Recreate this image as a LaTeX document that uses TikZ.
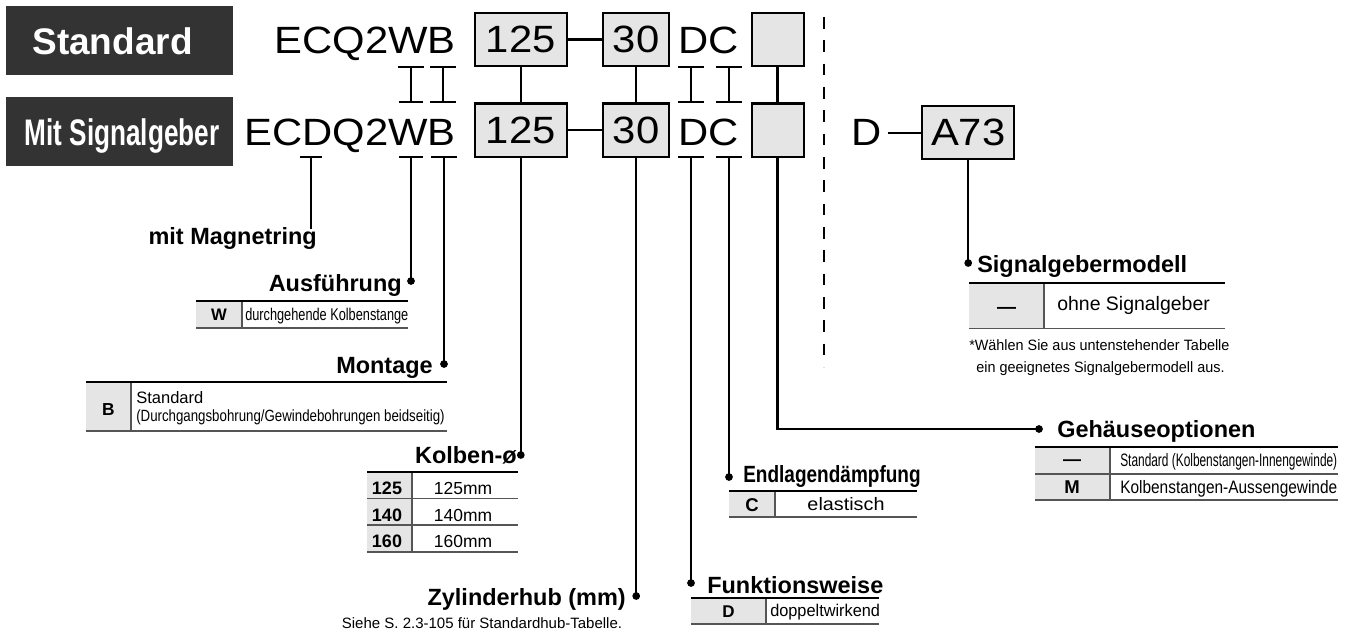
\documentclass[tikz,border=0pt]{standalone}
\usepackage{fontspec}
\setmainfont{Liberation Sans}
\usepackage{graphicx}
\usetikzlibrary{arrows.meta}
\definecolor{cellgray}{HTML}{E5E5E5}
\definecolor{labelbg}{HTML}{333333}
\definecolor{rulegray}{HTML}{555555}
\newcommand{\codew}[1]{\scalebox{1.1}[1]{#1}}
\newcommand{\sx}[2]{\scalebox{#1}[1]{#2}}
\newcommand{\fpx}[1]{\fontsize{#1}{#1}\selectfont}
\begin{document}
\begin{tikzpicture}[x=0.75pt,y=-0.75pt,
 conn/.style={line width=1.6pt},
 ibar/.style={line width=1.3pt},
 code/.style={inner sep=0pt, font=\fpx{28.5pt}},
 codebox/.style={draw, line width=1.5pt, fill=cellgray, inner sep=0pt, minimum height=39.75pt, font=\fpx{28.5pt}},
 lblbox/.style={fill=labelbg, inner sep=0pt, minimum width=170.25pt, minimum height=51.75pt},
 lbltext/.style={inner sep=0pt, text=white, font=\fpx{27.75pt}\bfseries},
 title/.style={inner sep=0pt, font=\fpx{17.6pt}\bfseries},
 dot/.style={circle, fill, inner sep=0pt, minimum size=5.8pt},
 key/.style={inner sep=0pt, anchor=base},
 val/.style={inner sep=0pt, anchor=base west},
 topr/.style={line width=1.5pt},
 thinr/.style={line width=0.8pt, rulegray},
]
\useasboundingbox (0,0) rectangle (1349,635);

% label boxes
\node[lblbox] (lblS) at (119.5,40.5) {};
\node[lbltext, anchor=base] (lblSt) at (112.5,54.3) {Standard};
\node[lblbox] (lblM) at (119.5,131.5) {};
\node[lbltext, anchor=base] (lblMt) at (122,145.7) {\sx{0.707}{Mit Signalgeber}};

% row 1
\node[code, anchor=base east] (c1) at (456,53.3) {\codew{ECQ2WB}};
\node[codebox, minimum width=69pt] (b125a) at (520.8,39.5) {\codew{125}};
\node[codebox, minimum width=49.5pt] (b30a) at (636.2,39.5) {\codew{30}};
\node[code, anchor=base west] (dc1) at (678,53.3) {\codew{DC}};
\node[codebox, minimum width=39pt] (bEa) at (777.5,39.5) {};

% row 2
\node[code, anchor=base east] (c2) at (456,145.7) {\codew{ECDQ2WB}};
\node[codebox, minimum width=69pt] (b125b) at (520.8,130) {\codew{125}};
\node[codebox, minimum width=49.5pt] (b30b) at (636.2,130) {\codew{30}};
\node[code, anchor=base west] (dc2) at (678,145.7) {\codew{DC}};
\node[codebox, minimum width=39pt] (bEb) at (777.5,130) {};
\node[code, anchor=base west] (dD) at (851,145.7) {\codew{D}};
\node[codebox, minimum width=68.6pt] (bA73) at (968.2,132.7) {\codew{A73}};

% dashed separator
\coordinate (sepT) at (824,17);
\coordinate (sepB) at (824,367);
\draw[line width=1.6pt, dash pattern=on 8.75pt off 8.75pt] (sepT) -- (sepB);

% box connectors
\draw[conn] (b125a) -- (b30a);
\draw[conn] (b125b) -- (b30b);
\draw[conn] (b125a.south) -- (b125b.north);
\draw[conn] (b30a.south) -- (b30b.north);
\draw[conn] (bEa.south) -- (bEb.north);
\draw[conn, shorten <=4.5pt] (dD.east) -- (dD.east -| bA73.west);

% I-bars between rows
\coordinate (iW1) at (411,66);  \coordinate (iW2) at (411,103);
\coordinate (iB1) at (443,66);  \coordinate (iB2) at (443,103);
\coordinate (iD1) at (691,66);  \coordinate (iD2) at (691,103);
\coordinate (iC1) at (729,66);  \coordinate (iC2) at (729,103);
\draw[ibar, {Bar[width=20pt]}-{Bar[width=18pt]}] (iW1) -- (iW2);
\draw[ibar, {Bar[width=19.5pt]}-{Bar[width=19.5pt]}] (iB1) -- (iB2);
\draw[ibar, {Bar[width=19.5pt]}-{Bar[width=19.5pt]}] (iD1) -- (iD2);
\draw[ibar, {Bar[width=19.5pt]}-{Bar[width=19.5pt]}] (iC1) -- (iC2);

% leads from row 2
\coordinate (lDm) at (311,156); \coordinate (eMag) at (311,229);
\coordinate (lW) at (411,156);
\coordinate (lB) at (444,156);
\coordinate (lD) at (691,156);
\coordinate (lC) at (729,156);

\node[dot] (dAus) at (411,281) {};
\node[dot] (dMon) at (444,364) {};
\node[dot] (dKol) at (520.8,455) {};
\node[dot] (dZyl) at (636.2,596) {};
\node[dot] (dFun) at (691,583) {};
\node[dot] (dEnd) at (729,477) {};
\node[dot] (dGeh) at (1039,429) {};
\node[dot] (dSig) at (968.2,263) {};

\draw[conn, {Bar[width=16.5pt]}-] (lDm) -- (eMag);
\draw[conn, {Bar[width=18pt]}-] (lW) -- (dAus.center);
\draw[conn, {Bar[width=19.5pt]}-] (lB) -- (dMon.center);
\draw[conn, {Bar[width=19.5pt]}-] (lD) -- (dFun.center);
\draw[conn, {Bar[width=19.5pt]}-] (lC) -- (dEnd.center);
\draw[conn] (b125b.south) -- (dKol.center);
\draw[conn] (b30b.south) -- (dZyl.center);
\draw[conn] (bEb.south) |- (dGeh.center);
\draw[conn] (bA73.south) -- (dSig.center);

% titles
\node[title, anchor=base east] (tMag) at (317,244) {mit Magnetring};
\node[title, anchor=base east] (tAus) at (402,291) {Ausführung};
\node[title, anchor=base east] (tMon) at (433,373) {Montage};
\node[title, anchor=base east] (tKol) at (517,463) {Kolben-ø};
\node[title, anchor=base east] (tZyl) at (626,605) {Zylinderhub (mm)};
\node[title, anchor=base west] (tFun) at (707,593) {Funktionsweise};
\node[title, anchor=base west] (tEnd) at (743,482) {\sx{0.81}{Endlagendämpfung}};
\node[title, anchor=base west] (tGeh) at (1057,437) {Gehäuseoptionen};
\node[title, anchor=base west] (tSig) at (977,272) {Signalgebermodell};

% table: Ausfuehrung
\fill[cellgray] (196,301) rectangle (242,328);
\draw[thinr] (242,301) -- (242,328) (196,328) -- (408,328);
\draw[topr] (196,301) -- (408,301);
\node[key, font=\fpx{12.5pt}\bfseries] (kW) at (219,320.5) {W};
\node[val, font=\fpx{12.75pt}] (vW) at (245,320) {\sx{0.75}{durchgehende Kolbenstange}};

% table: Montage
\fill[cellgray] (86,382) rectangle (131,431);
\draw[thinr] (131,382) -- (131,431) (86,431) -- (447,431);
\draw[topr] (86,382) -- (447,382);
\node[key, font=\fpx{13pt}\bfseries] (kB) at (108.5,415) {B};
\node[val, font=\fpx{12.4pt}] (vB1) at (136,403.3) {Standard};
\node[val, font=\fpx{12.2pt}] (vB2) at (136,421.7) {\sx{0.816}{(Durchgangsbohrung/Gewindebohrungen beidseitig)}};

% table: Kolben
\fill[cellgray] (367,472) rectangle (412,552);
\draw[thinr] (412,472) -- (412,552) (367,498.5) -- (518,498.5) (367,525) -- (518,525) (367,552) -- (518,552);
\draw[topr] (367,472) -- (518,472);
\node[key, font=\fpx{13.5pt}\bfseries] (k125) at (387,494.5) {125};
\node[key, font=\fpx{13.5pt}\bfseries] (k140) at (387,521) {140};
\node[key, font=\fpx{13.5pt}\bfseries] (k160) at (387,547) {160};
\node[key, font=\fpx{13.1pt}] (v125) at (463,494.5) {125mm};
\node[key, font=\fpx{13.1pt}] (v140) at (463,521) {140mm};
\node[key, font=\fpx{13.1pt}] (v160) at (463,547) {160mm};

% Zylinderhub note
\node[key, font=\fpx{11.25pt}] (nZyl) at (482,628) {Siehe S. 2.3-105 für Standardhub-Tabelle.};

% table: Funktionsweise
\fill[cellgray] (691,598) rectangle (766,624);
\draw[thinr] (766,598) -- (766,624) (691,624) -- (879,624);
\draw[topr] (691,598) -- (879,598);
\node[key, font=\fpx{12.75pt}\bfseries] (kD) at (728.5,617.3) {D};
\node[val, font=\fpx{12.75pt}] (vD) at (770,616) {\sx{0.96}{doppeltwirkend}};

% table: Endlagendaempfung
\fill[cellgray] (729,490.7) rectangle (775,517);
\draw[thinr] (775,490.7) -- (775,517) (729,517) -- (917,517);
\draw[topr] (729,490.7) -- (917,490.7);
\node[key, font=\fpx{13.9pt}\bfseries] (kC) at (752,511.7) {C};
\node[key, font=\fpx{13.5pt}] (vC) at (846,510.7) {\sx{1.1}{elastisch}};

% table: Gehaeuseoptionen
\fill[cellgray] (1035,446.7) rectangle (1110,500);
\draw[thinr] (1110,446.7) -- (1110,500) (1035,474) -- (1338,474) (1035,500) -- (1338,500);
\draw[topr] (1035,446.7) -- (1338,446.7);
\node[key, font=\fpx{13.5pt}\bfseries] (kG1) at (1072,465) {—};
\node[key, font=\fpx{13.9pt}\bfseries] (kG2) at (1072,493.3) {M};
\node[val, font=\fpx{13.5pt}] (vG1) at (1120,466.7) {\sx{0.661}{Standard (Kolbenstangen-Innengewinde)}};
\node[val, font=\fpx{13.5pt}] (vG2) at (1120,493.3) {\sx{0.857}{Kolbenstangen-Aussengewinde}};

% table: Signalgebermodell
\fill[cellgray] (969,283.3) rectangle (1044,328.3);
\draw[thinr] (1044,283.3) -- (1044,328.3) (969,328.3) -- (1225,328.3);
\draw[topr] (969,283.3) -- (1225,283.3);
\node[key, font=\fpx{14.25pt}\bfseries] (kS) at (1006.6,313) {—};
\node[val, font=\fpx{14.6pt}] (vS) at (1057,310) {ohne Signalgeber};
\node[val, font=\fpx{11.25pt}] (nS1) at (969,350.7) {\sx{0.96}{*Wählen Sie aus untenstehender Tabelle}};
\node[key, font=\fpx{11.25pt}] (nS2) at (1100.5,372) {\sx{0.96}{ein geeignetes Signalgebermodell aus.}};
\end{tikzpicture}
\end{document}
